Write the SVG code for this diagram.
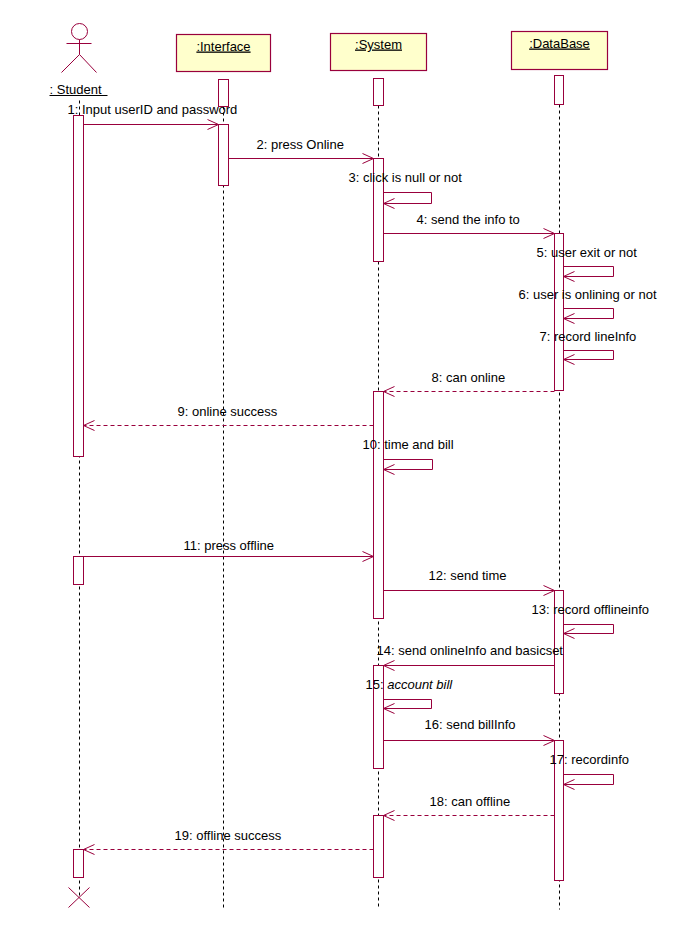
<svg xmlns="http://www.w3.org/2000/svg" width="677" height="945" viewBox="0 0 677 945">
<style>
.ll{stroke:#000;stroke-width:1;stroke-dasharray:3 3;fill:none}
.act{fill:#fff;stroke:#99003c;stroke-width:1}
.box{fill:#ffffcc;stroke:#99003c;stroke-width:1.2}
.msg{stroke:#99003c;stroke-width:1;fill:none}
.ret{stroke:#99003c;stroke-width:1;fill:none;stroke-dasharray:4 3}
text{font-family:"Liberation Sans",Arial,sans-serif;font-size:13px;fill:#000}
.u{text-decoration:underline}
</style>
<defs>
<marker id="ah" markerUnits="userSpaceOnUse" markerWidth="14" markerHeight="14" viewBox="-12 -7 14 14" refX="0" refY="0" orient="auto">
<path d="M-11,-5 L0,0 L-11,5" fill="none" stroke="#99003c" stroke-width="1"/>
</marker>
</defs>
<rect width="677" height="945" fill="#fff"/>
<g transform="translate(0.5,0.5)">
<g id="lifelines">
<line class="ll" x1="79" y1="100" x2="79" y2="897"/>
<line class="ll" x1="223" y1="106" x2="223" y2="909"/>
<line class="ll" x1="378" y1="105" x2="378" y2="909"/>
<line class="ll" x1="559" y1="104" x2="559" y2="909"/>
</g>
<g id="student">
<circle cx="79" cy="31" r="8" fill="none" stroke="#99003c"/>
<line class="msg" x1="79" y1="39" x2="79" y2="54"/>
<line class="msg" x1="66" y1="43" x2="91" y2="43"/>
<line class="msg" x1="79" y1="54" x2="61" y2="72"/>
<line class="msg" x1="79" y1="54" x2="96" y2="72"/>
<text x="49" y="93">: Student</text>
<line x1="49" y1="95" x2="107" y2="95" stroke="#000"/>
<rect class="act" x="73" y="115" width="10" height="341"/>
<rect class="act" x="73" y="556" width="10" height="28"/>
<rect class="act" x="73" y="849" width="10" height="28"/>
<line class="msg" x1="68" y1="887" x2="89" y2="907"/>
<line class="msg" x1="89" y1="887" x2="68" y2="907"/>
</g>
<g id="interface">
<rect class="box" x="176" y="34" width="94" height="37"/>
<text x="223" y="50" text-anchor="middle" class="u">:Interface</text>
<rect class="act" x="218" y="79" width="10" height="27"/>
<rect class="act" x="218" y="124" width="10" height="61"/>
</g>
<g id="system">
<rect class="box" x="330" y="33" width="96" height="37"/>
<text x="378" y="48" text-anchor="middle" class="u">:System</text>
<rect class="act" x="373" y="78" width="10" height="27"/>
<rect class="act" x="373" y="158" width="10" height="103"/>
<rect class="act" x="373" y="391" width="10" height="227"/>
<rect class="act" x="373" y="665" width="10" height="103"/>
<rect class="act" x="373" y="815" width="10" height="62"/>
</g>
<g id="database">
<rect class="box" x="511" y="31" width="96" height="38"/>
<text x="559" y="47" text-anchor="middle" class="u">:DataBase</text>
<rect class="act" x="554" y="75" width="9" height="29"/>
<rect class="act" x="554" y="233" width="9" height="157"/>
<rect class="act" x="554" y="590" width="9" height="103"/>
<rect class="act" x="554" y="740" width="9" height="140"/>
</g>
<g id="connectors">
<line class="msg" x1="83" y1="124" x2="218" y2="124" marker-end="url(#ah)"/>
<line class="msg" x1="228" y1="158" x2="373" y2="158" marker-end="url(#ah)"/>
<path class="msg" d="M383,192 H431 V203 H383" marker-end="url(#ah)"/>
<line class="msg" x1="383" y1="233" x2="554" y2="233" marker-end="url(#ah)"/>
<path class="msg" d="M563,266 H613 V276 H563" marker-end="url(#ah)"/>
<path class="msg" d="M563,308 H613 V318 H563" marker-end="url(#ah)"/>
<path class="msg" d="M563,350 H613 V359 H563" marker-end="url(#ah)"/>
<line class="ret" x1="554" y1="391" x2="383" y2="391" marker-end="url(#ah)"/>
<line class="ret" x1="373" y1="425" x2="83" y2="425" marker-end="url(#ah)"/>
<path class="msg" d="M383,459 H432 V469 H383" marker-end="url(#ah)"/>
<line class="msg" x1="83" y1="556" x2="373" y2="556" marker-end="url(#ah)"/>
<line class="msg" x1="383" y1="590" x2="554" y2="590" marker-end="url(#ah)"/>
<path class="msg" d="M563,624 H613 V633 H563" marker-end="url(#ah)"/>
<line class="msg" x1="554" y1="665" x2="383" y2="665" marker-end="url(#ah)"/>
<path class="msg" d="M383,699 H431 V708 H383" marker-end="url(#ah)"/>
<line class="msg" x1="383" y1="740" x2="554" y2="740" marker-end="url(#ah)"/>
<path class="msg" d="M563,774 H613 V784 H563" marker-end="url(#ah)"/>
<line class="ret" x1="554" y1="815" x2="383" y2="815" marker-end="url(#ah)"/>
<line class="ret" x1="373" y1="849" x2="83" y2="849" marker-end="url(#ah)"/>
</g>
<g id="labels">
<text x="67" y="113">1: Input userID and password</text>
<text x="256" y="148">2: press Online</text>
<text x="348" y="181">3: click is null or not</text>
<text x="416" y="223">4: send the info to</text>
<text x="536" y="256">5: user exit or not</text>
<text x="518" y="298">6: user is onlining or not</text>
<text x="539" y="340">7: record lineInfo</text>
<text x="431" y="381">8: can online</text>
<text x="177" y="415">9: online success</text>
<text x="362" y="448">10: time and bill</text>
<text x="183" y="549">11: press offline</text>
<text x="428" y="579">12: send time</text>
<text x="531" y="613">13: record offlineinfo</text>
<text x="376" y="654">14: send onlineInfo and basicset</text>
<text x="365" y="688">15: <tspan font-style="italic">account bill</tspan></text>
<text x="424" y="728">16: send billInfo</text>
<text x="549" y="763">17: recordinfo</text>
<text x="429" y="805">18: can offline</text>
<text x="174" y="839">19: offline success</text>
</g>
</g>
</svg>
